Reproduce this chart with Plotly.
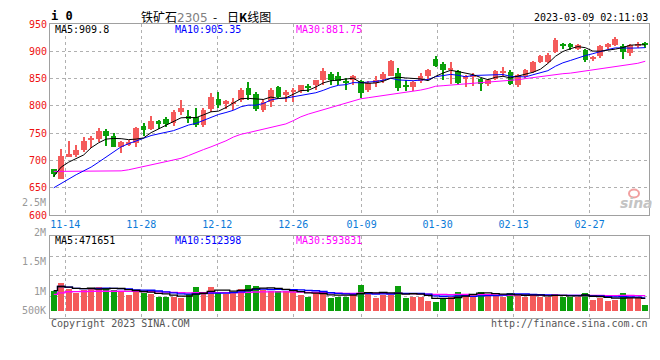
import plotly.graph_objects as go

# ---------------- data ----------------
dates = [
    "11-10", "11-11", "11-14", "11-15", "11-16", "11-17", "11-18", "11-21", "11-22", "11-23",
    "11-24", "11-25", "11-28", "11-29", "11-30", "12-01", "12-02", "12-05", "12-06", "12-07",
    "12-08", "12-09", "12-12", "12-13", "12-14", "12-15", "12-16", "12-19", "12-20", "12-21",
    "12-22", "12-23", "12-26", "12-27", "12-28", "12-29", "12-30", "01-03", "01-04", "01-05",
    "01-06", "01-09", "01-10", "01-11", "01-12", "01-13", "01-16", "01-17", "01-18", "01-19",
    "01-20", "01-30", "01-31", "02-01", "02-02", "02-03", "02-06", "02-07", "02-08", "02-09",
    "02-10", "02-13", "02-14", "02-15", "02-16", "02-17", "02-20", "02-21", "02-22", "02-23",
    "02-24", "02-27", "02-28", "03-01", "03-02", "03-03", "03-06", "03-07", "03-08", "03-09",
]
open_ = [684, 667, 708, 710, 719, 738, 739, 754, 745, 725, 730, 732, 763, 757, 773, 776, 768, 789, 782, 780,
         765, 795, 812, 803, 804, 810, 833, 822, 793, 807, 835, 820, 825, 827, 837, 838, 847, 858, 854, 845,
         848, 846, 830, 842, 849, 855, 861, 837, 835, 845, 854, 886, 877, 866, 864, 849, 853, 850, 840, 850,
         861, 863, 839, 854, 863, 880, 880, 899, 912, 913, 905, 902, 885, 891, 907, 912, 910, 897, 911, 915]
high = [685, 721, 736, 728, 743, 744, 760, 757, 750, 735, 737, 762, 768, 782, 775, 780, 793, 810, 793, 796,
        797, 824, 825, 811, 814, 833, 843, 825, 813, 832, 837, 829, 833, 839, 840, 848, 869, 862, 862, 851,
        857, 848, 845, 854, 863, 884, 869, 848, 845, 861, 867, 891, 881, 880, 866, 857, 861, 852, 849, 866,
        871, 865, 858, 868, 883, 894, 896, 925, 915, 916, 914, 904, 892, 912, 916, 926, 913, 914, 917, 917]
low = [670, 666, 706, 707, 715, 722, 733, 726, 724, 713, 727, 725, 744, 755, 757, 762, 764, 783, 768, 762,
       762, 789, 797, 795, 793, 808, 810, 791, 789, 798, 815, 807, 807, 824, 826, 830, 839, 839, 839, 829,
       839, 815, 826, 835, 842, 854, 827, 827, 827, 842, 848, 872, 848, 840, 838, 835, 836, 828, 836, 848,
       854, 838, 835, 852, 861, 878, 878, 897, 904, 903, 903, 880, 883, 887, 905, 910, 885, 892, 906, 906]
close = [676, 709, 711, 719, 736, 742, 754, 745, 725, 734, 733, 759, 756, 773, 767, 766, 789, 796, 776, 765,
         792, 817, 802, 809, 808, 830, 820, 794, 807, 830, 817, 826, 829, 838, 833, 847, 864, 848, 845, 842,
         855, 823, 842, 848, 858, 882, 833, 835, 843, 854, 866, 873, 865, 868, 842, 855, 856, 840, 847, 864,
         864, 841, 856, 866, 881, 892, 894, 921, 910, 907, 911, 884, 890, 909, 914, 923, 898, 912, 913, 913]
volume = [787000, 1102000, 874000, 722000, 809000, 874000, 950000, 912000, 809000, 787000,
          646000, 787000, 722000, 684000, 532000, 559000, 559000, 505000, 684000, 939000,
          722000, 939000, 749000, 684000, 722000, 874000, 1015000, 977000, 809000, 787000,
          787000, 787000, 749000, 635000, 532000, 722000, 722000, 494000, 559000, 559000,
          722000, 1015000, 684000, 505000, 635000, 635000, 977000, 505000, 559000, 559000,
          407000, 369000, 505000, 559000, 749000, 684000, 684000, 749000, 635000, 597000,
          559000, 711000, 597000, 559000, 635000, 559000, 559000, 684000, 559000, 559000,
          559000, 711000, 445000, 505000, 380000, 429000, 711000, 505000, 505000, 255000]
# moving-average lines: first points (history before the window)
ma5_head = [671, 688, 697, 703]
ma10_head = [650, 658, 667, 674, 681, 688, 697, 706, 715]
ma30 = [680, 680, 680, 680, 680, 680, 680, 680, 680, 681, 683, 686, 689, 692, 694, 697, 700, 704, 709, 715,
        720, 725, 730, 736, 743, 748, 751, 754, 758, 761, 764, 767, 773, 780, 785, 789, 793, 797, 801, 805,
        810, 813, 815, 817, 819, 821, 822, 824, 826, 829, 832, 836, 837, 838, 839, 840, 841, 842, 843, 844,
        846, 847, 848, 850, 852, 854, 856, 857, 859, 860, 862, 864, 866, 868, 870, 872, 874, 876, 878, 881.75]
vol_ma30 = [640, 700, 740, 745, 750, 755, 760, 760, 760, 760, 755, 755, 750, 745, 735, 725, 715, 705, 700, 705,
            705, 710, 710, 705, 705, 710, 720, 730, 735, 735, 735, 735, 730, 725, 720, 715, 710, 700, 690, 680,
            680, 690, 685, 680, 675, 670, 680, 670, 665, 660, 650, 640, 635, 630, 635, 635, 630, 630, 625, 620,
            615, 615, 610, 608, 606, 604, 602, 600, 598, 597, 596, 596, 595, 595, 594, 594, 595, 595, 594, 593.831]
vol_ma30 = [v * 1000 for v in vol_ma30]

tick_dates = ["11-14", "11-28", "12-12", "12-26", "01-09", "01-30", "02-13", "02-27"]
price_ticks = [600, 650, 700, 750, 800, 850, 900, 950]
legend_price = ["MA5:909.8", "MA10:905.35", "MA30:881.75"]
legend_vol = ["MA5:471651", "MA10:512398", "MA30:593831"]
vol_labels = ["2.5M", "2M", "1.5M", "1M", "500K"]


def moving_average(vals, n, head=None):
    out = []
    for i in range(len(vals)):
        w = vals[max(0, i - n + 1): i + 1]
        out.append(sum(w) / len(w))
    if head:
        out[:len(head)] = head
    return out


ma5 = moving_average(close, 5, ma5_head)
ma10 = moving_average(close, 10, ma10_head)
vol_ma5 = moving_average(volume, 5)
vol_ma10 = moving_average(volume, 10)

# ---------------- styling ----------------
RED = "#f45b5b"
GREEN = "#0a9f0a"
MONO = "DejaVu Sans Mono"
GRID = "#b0b0b0"
OFF = 8  # default page body margin
W, H = 660 - OFF, 360 - OFF
# plot area in page pixels: x 50..649, y 18..318
PL, PR, PT, PB = 50, 649, 18, 318
ML, MR, MT, MB = PL - OFF, 660 - PR, PT - OFF, 360 - PB - OFF + 0
MB = (H + OFF) - PB  # bottom margin inside figure
PW, PH = PR - PL, PB - PT


def px(xp):
    return (xp - PL) / PW


def py(yp):
    return (PB - yp) / PH


n = len(dates)
xs = list(range(n))
colors = [RED if c >= o else GREEN for o, c in zip(open_, close)]
GRID_STEP = 1.015  # Sina spaces its date grid slightly wider than the candle slots
tickvals = [dates.index(d) * GRID_STEP - 0.5 for d in tick_dates]

fig = go.Figure()

# wicks
fig.add_trace(go.Bar(x=xs, y=[h - l for h, l in zip(high, low)], base=low, width=0.14,
                     marker=dict(color=colors, line=dict(width=0)), xaxis="x", yaxis="y"))
# bodies
fig.add_trace(go.Bar(x=xs, y=[max(abs(c - o), 1.2) for o, c in zip(open_, close)],
                     base=[min(o, c) for o, c in zip(open_, close)], width=0.76,
                     marker=dict(color=colors, line=dict(width=0)), xaxis="x", yaxis="y"))
for ys, col in [(ma30, "#ff00ff"), (ma10, "#0000ff"), (ma5, "#000000")]:
    fig.add_trace(go.Scatter(x=xs, y=ys, mode="lines", line=dict(color=col, width=1),
                             xaxis="x", yaxis="y"))

# volume
fig.add_trace(go.Bar(x=xs, y=volume, width=0.8, marker=dict(color=colors, line=dict(width=0)),
                     xaxis="x2", yaxis="y2"))
for ys, col in [(vol_ma30, "#ff00ff"), (vol_ma10, "#0000ff"), (vol_ma5, "#000000")]:
    fig.add_trace(go.Scatter(x=xs, y=ys, mode="lines", line=dict(color=col, width=1.3, shape="hvh"),
                             xaxis="x2", yaxis="y2"))

axis_common = dict(showline=True, mirror=True, linecolor="#a0a0a0", linewidth=1, zeroline=False,
                   showgrid=True, gridcolor=GRID, griddash="dot", gridwidth=1, ticks="")

VPX = 38000  # volume per pixel
vol_lo = -(PB - 310.7) * VPX
vol_hi = (310.7 - 234) * VPX
vol_grid = [(310.7 - yp) * VPX for yp in (255, 275, 296)]

fig.update_layout(
    width=W, height=H, margin=dict(l=ML, r=MR, t=MT, b=MB, pad=0),
    paper_bgcolor="white", plot_bgcolor="white", showlegend=False, hovermode=False,
    barmode="overlay", bargap=0,
    xaxis=dict(domain=[0, 1], range=[-0.5, n - 0.5], anchor="y", tickvals=tickvals, ticktext=tick_dates,
               tickfont=dict(family=MONO, size=10, color="#0a7ad8"), **axis_common),
    yaxis=dict(domain=[(PB - 213) / PH, 1], range=[600, 950], tickvals=price_ticks,
               ticktext=[str(v) for v in price_ticks],
               tickfont=dict(family=MONO, size=10, color="#ee1111"), **axis_common),
    xaxis2=dict(domain=[0, 1], range=[-0.5, n - 0.5], anchor="y2", matches="x", tickvals=tickvals,
                showticklabels=False, **axis_common),
    yaxis2=dict(domain=[0, (PB - 234) / PH], range=[vol_lo, vol_hi], tickvals=vol_grid,
                showticklabels=False, **axis_common),
)

ann = []


def add_text(text, xp, yp, color="#000000", size=10, anchor="left", family=MONO, yanchor="middle"):
    ann.append(dict(text=text, x=px(xp), y=py(yp), xref="paper", yref="paper", showarrow=False,
                    xanchor=anchor, yanchor=yanchor, font=dict(family=family, size=size, color=color),
                    borderpad=0))


add_text("<b>i 0</b>", 50, 10, size=12)
add_text("铁矿石<span style='color:#808080;font-family:DejaVu Sans'>2305</span>  -", 140, 10,
         size=12, family="Noto Sans CJK SC")
add_text("日<b>K</b>线图", 226, 10, size=12, family="Noto Sans CJK SC")
add_text("2023-03-09 02:11:03", 649, 11, anchor="right", size=10)

for txt, xp, col in zip(legend_price, (54, 174, 295), ("#000000", "#0000ff", "#ff00ff")):
    add_text(txt, xp, 24, color=col)
for txt, xp, col in zip(legend_vol, (54, 174, 295), ("#000000", "#0000ff", "#ff00ff")):
    add_text(txt, xp, 239, color=col)

for txt, yp in zip(vol_labels, (200, 231, 260.5, 290.5, 310.5)):
    add_text(txt, 47, yp, color="#999999", anchor="right")

add_text("Copyright 2023 SINA.COM", 50, 324, color="#555555")
add_text("http://finance.sina.com.cn", 649, 324, color="#555555", anchor="right")
add_text("<b><i>sina</i></b>", 636, 201, color="#c4c4c4", size=14, anchor="center", family="DejaVu Sans")

fig.update_layout(annotations=ann)
fig.add_shape(type="circle", xref="paper", yref="paper", x0=px(629), x1=px(639), y0=py(195), y1=py(187),
              line=dict(color="#f2a0a0", width=2), fillcolor="rgba(0,0,0,0)")

fig.write_html("out.html")
